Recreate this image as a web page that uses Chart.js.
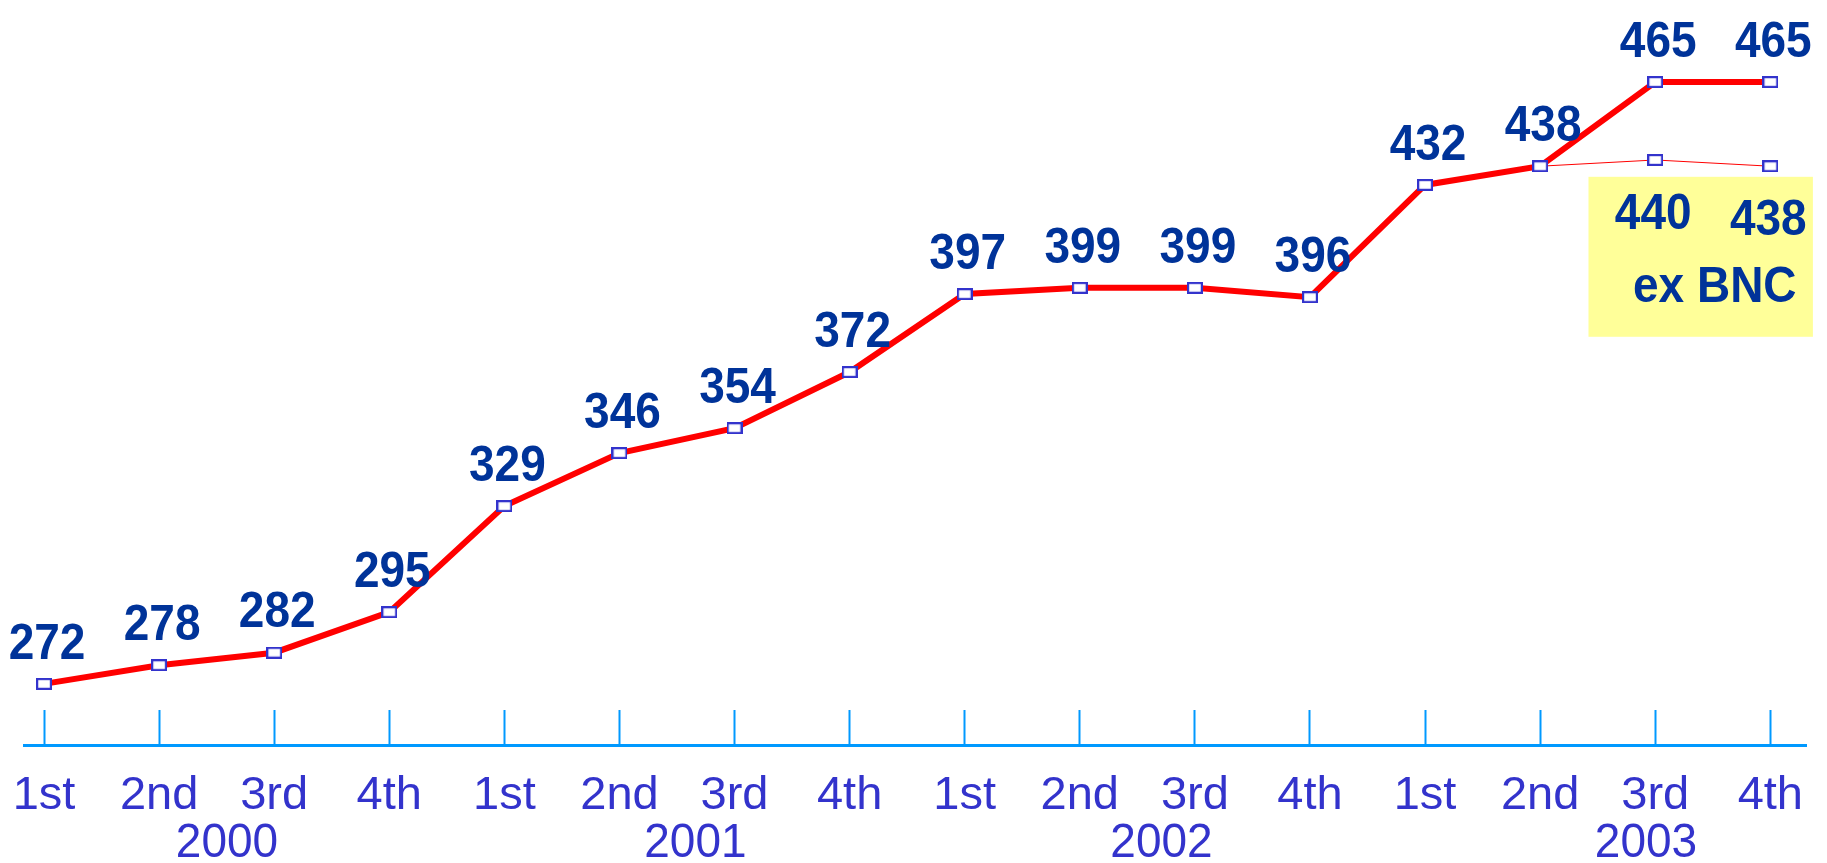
<!DOCTYPE html>
<html>
<head>
<meta charset="utf-8">
<script src="https://cdn.jsdelivr.net/npm/chart.js@4.4.1/dist/chart.umd.min.js"></script>
<style>
  html, body { margin: 0; padding: 0; background: #ffffff; }
  #wrap { width: 1827px; height: 863px; }
  canvas { display: block; }
</style>
</head>
<body>
<div id="wrap"><canvas id="chart" width="1827" height="863"></canvas></div>
<script>
// ---- data ----
const quarterLabels = ['1st','2nd','3rd','4th','1st','2nd','3rd','4th','1st','2nd','3rd','4th','1st','2nd','3rd','4th'];
const yearLabels = ['2000','2001','2002','2003'];
const yearLabelAt = [1.59, 5.66, 9.71, 13.92];
const totalValues = [272, 278, 282, 295, 329, 346, 354, 372, 397, 399, 399, 396, 432, 438, 465, 465];
const exBncValues = [null, null, null, null, null, null, null, null, null, null, null, null, null, 438, 440, 438];
const exBncFirstLabel = 14;
const noteText = 'ex BNC';

// ---- styling ----
const FONT = '"Liberation Sans", Arial, Helvetica, sans-serif';
const LABEL_BLUE = '#003399';
const AXIS_TEXT = '#3333CC';
const AXIS_LINE = '#0099FF';

function makeMarker() {
  const c = document.createElement('canvas');
  c.width = 16; c.height = 12;
  const g = c.getContext('2d');
  g.fillStyle = '#ffffff';
  g.fillRect(0, 0, 16, 12);
  g.strokeStyle = '#3333CC';
  g.lineWidth = 2.2;
  g.strokeRect(1.1, 1.1, 13.8, 9.8);
  return c;
}
const marker = makeMarker();

const toPoints = arr => arr.map((v, i) => ({ x: i, y: v }));

function stretchedText(ctx, text, x, y, sy) {
  ctx.save();
  ctx.translate(x, y);
  ctx.scale(1, sy);
  ctx.fillText(text, 0, 0);
  ctx.restore();
}

const noteBoxPlugin = {
  id: 'noteBox',
  beforeDatasetsDraw(chart) {
    const { ctx, scales: { x, y } } = chart;
    const l = x.getPixelForValue(13.42), r = x.getPixelForValue(15.37);
    const t = y.getPixelForValue(434.6), b = y.getPixelForValue(383.3);
    ctx.save();
    ctx.fillStyle = '#FFFF99';
    ctx.fillRect(l, t, r - l, b - t);
    ctx.restore();
  }
};

const yearLabelPlugin = {
  id: 'yearLabels',
  afterDraw(chart) {
    const { ctx, scales: { x }, chartArea } = chart;
    ctx.save();
    ctx.font = '46px ' + FONT;
    ctx.fillStyle = AXIS_TEXT;
    ctx.textAlign = 'center';
    ctx.textBaseline = 'middle';
    yearLabels.forEach((yr, i) => {
      stretchedText(ctx, yr, x.getPixelForValue(yearLabelAt[i]), chartArea.bottom + 99, 1.05);
    });
    ctx.restore();
  }
};

const valueLabelPlugin = {
  id: 'valueLabels',
  afterDatasetsDraw(chart) {
    const { ctx } = chart;
    ctx.save();
    ctx.font = 'bold 46px ' + FONT;
    ctx.fillStyle = LABEL_BLUE;
    ctx.textAlign = 'center';
    ctx.textBaseline = 'middle';
    chart.data.datasets.forEach((ds, di) => {
      const meta = chart.getDatasetMeta(di);
      meta.data.forEach((pt, i) => {
        const raw = ds.data[i];
        if (!raw || raw.y === null) return;
        if (i < ds.firstLabel) return;
        stretchedText(ctx, String(raw.y), pt.x + ds.labelDx, pt.y + ds.labelDy, 1.08);
      });
    });
    // note text under the ex-BNC values
    const ex = chart.getDatasetMeta(1).data;
    const cx = (ex[14].x + ex[15].x) / 2 + 2;
    const cy = Math.max(ex[14].y, ex[15].y) + 122;
    stretchedText(ctx, noteText, cx, cy, 1.08);
    ctx.restore();
  }
};

new Chart(document.getElementById('chart'), {
  type: 'line',
  data: {
    datasets: [
      {
        label: 'total',
        data: toPoints(totalValues),
        borderColor: '#FF0000',
        borderWidth: 6,
        pointStyle: marker,
        pointRadius: 6,
        tension: 0,
        order: 1,
        firstLabel: 0,
        labelDx: 3,
        labelDy: -39
      },
      {
        label: 'ex BNC',
        data: toPoints(exBncValues),
        borderColor: '#FF0000',
        borderWidth: 1,
        pointStyle: marker,
        pointRadius: 6,
        tension: 0,
        spanGaps: false,
        order: 2,
        firstLabel: exBncFirstLabel,
        labelDx: -2,
        labelDy: 55
      }
    ]
  },
  options: {
    responsive: false,
    animation: false,
    events: [],
    layout: { padding: { left: 24, right: 21, top: 0, bottom: 0 } },
    plugins: { legend: { display: false }, tooltip: { enabled: false }, title: { display: false } },
    scales: {
      x: {
        type: 'linear',
        position: 'bottom',
        bounds: 'data',
        min: -0.174,
        max: 15.31,
        afterBuildTicks: s => { s.ticks = quarterLabels.map((_, i) => ({ value: i })); },
        afterFit: s => { s.height = 118; s.paddingLeft = 0; s.paddingRight = 0; },
        grid: {
          drawOnChartArea: false,
          drawTicks: true,
          tickLength: -35,
          tickColor: AXIS_LINE,
          tickWidth: 2
        },
        border: { display: true, color: AXIS_LINE, width: 3 },
        ticks: {
          autoSkip: false,
          maxRotation: 0,
          minRotation: 0,
          padding: 63,
          color: AXIS_TEXT,
          font: { family: FONT, size: 47, lineHeight: 1 },
          callback: (v, i) => quarterLabels[i]
        }
      },
      y: {
        type: 'linear',
        display: false,
        bounds: 'data',
        min: 252.4,
        max: 487.45
      }
    }
  },
  plugins: [noteBoxPlugin, valueLabelPlugin, yearLabelPlugin]
});
</script>
</body>
</html>
